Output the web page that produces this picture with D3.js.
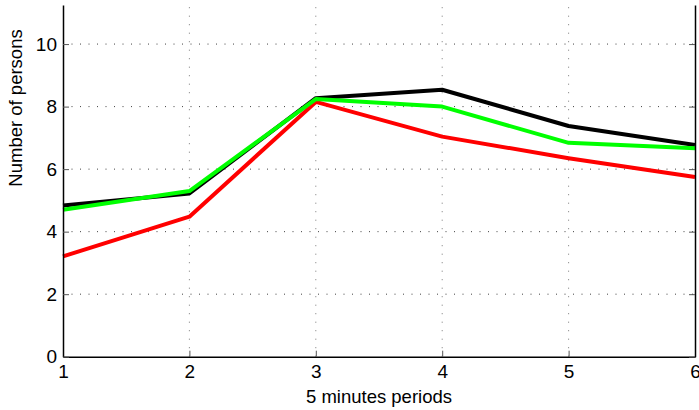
<!DOCTYPE html>
<html>
<head>
<meta charset="utf-8">
<script src="https://cdn.jsdelivr.net/npm/d3@7"></script>
<style>
  html, body { margin: 0; padding: 0; background: #fff; }
  svg { display: block; font-family: "Liberation Sans", Arial, sans-serif; }
</style>
</head>
<body>
<svg id="chart" width="699" height="410"></svg>
<script>
// Number of persons per 5-minute period, three series
const periods = [1, 2, 3, 4, 5, 6];
const seriesBlack = [4.84, 5.22, 8.27, 8.54, 7.38, 6.77];
const seriesGreen = [4.70, 5.30, 8.24, 8.00, 6.84, 6.67];
const seriesRed   = [3.21, 4.48, 8.15, 7.04, 6.35, 5.75];
const xTicks = [1, 2, 3, 4, 5, 6];
const yTicks = [0, 2, 4, 6, 8, 10];
const xLabel = "5 minutes periods";
const yLabel = "Number of persons";

const svg = d3.select("#chart");
const m = { left: 63, right: 695, top: 5, bottom: 356.7 };

const x = d3.scaleLinear().domain([1, 6]).range([m.left, m.right]);
const y = d3.scaleLinear().domain([0, 11.25]).range([m.bottom, m.top]);

// dotted grid
const grid = svg.append("g").attr("stroke", "#222").attr("stroke-width", 1)
  .attr("stroke-dasharray", "1,7.5");
xTicks.filter(t => t > 1 && t < 6).forEach(t => {
  grid.append("line").attr("x1", x(t)).attr("x2", x(t))
    .attr("y1", m.bottom).attr("y2", m.top).attr("opacity", 0.6);
});
yTicks.filter(t => t > 0).forEach(t => {
  grid.append("line").attr("x1", m.left).attr("x2", m.right)
    .attr("y1", y(t)).attr("y2", y(t)).attr("opacity", 0.85);
});

// series lines
const line = d3.line().x((d, i) => x(periods[i])).y(d => y(d));
const series = [
  { values: seriesBlack, color: "#000000" },
  { values: seriesRed,   color: "#ff0000" },
  { values: seriesGreen, color: "#00ff00" }
];
series.forEach(s => {
  svg.append("path").datum(s.values).attr("d", line)
    .attr("fill", "none").attr("stroke", s.color)
    .attr("stroke-width", 4).attr("stroke-linejoin", "round");
});

// axes: bottom and left with inward ticks, plus right edge
const axisX = d3.axisBottom(x).tickValues(xTicks).tickFormat(d3.format("d"))
  .tickSizeInner(-6).tickSizeOuter(0).tickPadding(8);
const gx = svg.append("g").attr("transform", `translate(0,${m.bottom})`).call(axisX);
gx.select(".domain").attr("stroke", "#000").attr("stroke-width", 1.5);
gx.selectAll(".tick line").attr("stroke", "#555");
gx.selectAll("text").attr("font-size", 19).attr("fill", "#000");

const axisY = d3.axisLeft(y).tickValues(yTicks).tickFormat(d3.format("d"))
  .tickSizeInner(-6).tickSizeOuter(0).tickPadding(6);
const gy = svg.append("g").attr("transform", `translate(${m.left},0)`).call(axisY);
gy.select(".domain").attr("stroke", "#000").attr("stroke-width", 1.5);
gy.selectAll(".tick line").attr("stroke", "#555");
gy.selectAll("text").attr("font-size", 19).attr("fill", "#000");

const axisR = d3.axisRight(y).tickValues(yTicks).tickFormat("")
  .tickSizeInner(-6).tickSizeOuter(0);
const gr = svg.append("g").attr("transform", `translate(${m.right},0)`).call(axisR);
gr.select(".domain").attr("stroke", "#000").attr("stroke-width", 1.5);
gr.selectAll(".tick line").attr("stroke", "#555");

// axis titles
svg.append("text").attr("x", 379).attr("y", 403)
  .attr("text-anchor", "middle").attr("font-size", 18.5).text(xLabel);
svg.append("text").attr("transform", `translate(22,108) rotate(-90)`)
  .attr("text-anchor", "middle").attr("font-size", 18.5).text(yLabel);
</script>
</body>
</html>
